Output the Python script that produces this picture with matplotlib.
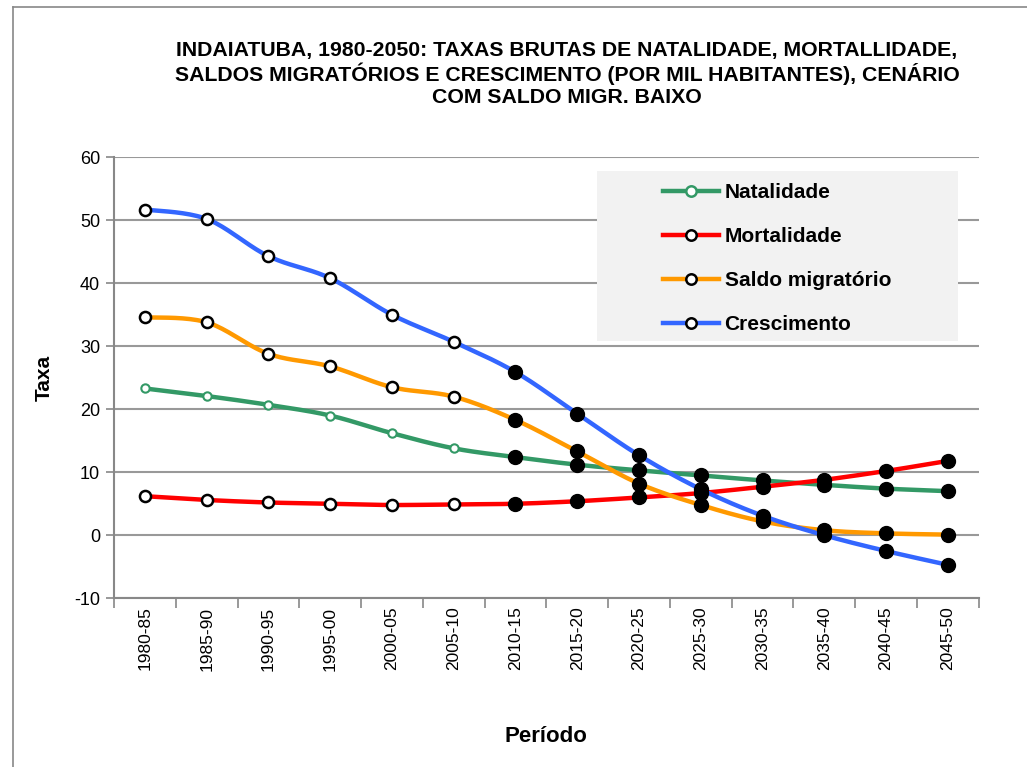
import numpy as np
import matplotlib.pyplot as plt
from matplotlib.lines import Line2D
from matplotlib.patches import Rectangle

plt.rcParams['font.family'] = ['Liberation Sans', 'DejaVu Sans']
plt.rcParams['axes.unicode_minus'] = False

# Dados (por mil habitantes)
periodos = ["1980-85", "1985-90", "1990-95", "1995-00", "2000-05", "2005-10", "2010-15",
            "2015-20", "2020-25", "2025-30", "2030-35", "2035-40", "2040-45", "2045-50"]
natalidade = [23.3, 22.1, 20.7, 19.0, 16.2, 13.8, 12.4, 11.2, 10.3, 9.5, 8.7, 8.0, 7.4, 7.0]
mortalidade = [6.2, 5.6, 5.2, 5.0, 4.8, 4.9, 5.0, 5.4, 6.0, 6.7, 7.7, 8.8, 10.2, 11.8]
saldo_migr = [34.6, 33.8, 28.8, 26.8, 23.5, 22.0, 18.3, 13.3, 8.2, 4.8, 2.2, 0.8, 0.3, 0.1]
crescimento = [51.7, 50.2, 44.3, 40.8, 35.0, 30.7, 25.9, 19.3, 12.7, 7.3, 3.1, 0.0, -2.5, -4.7]

series = [
    ("Natalidade", natalidade, "#339966"),
    ("Mortalidade", mortalidade, "#FF0000"),
    ("Saldo migratório", saldo_migr, "#FF9900"),
    ("Crescimento", crescimento, "#3366FF"),
]
n_hist = 6  # períodos com marcador aberto


def suavizar(x, y, n=20):
    # curva suavizada tipo Excel (Catmull-Rom) só para o traçado
    x = np.asarray(x, float)
    y = np.asarray(y, float)
    px = np.concatenate([[x[0]], x, [x[-1]]])
    py = np.concatenate([[y[0]], y, [y[-1]]])
    xs, ys = [], []
    t = np.linspace(0, 1, n, endpoint=False)
    for i in range(1, len(px) - 2):
        for arr, out in ((px, xs), (py, ys)):
            p0, p1, p2, p3 = arr[i - 1], arr[i], arr[i + 1], arr[i + 2]
            out.extend(0.5 * ((2 * p1) + (-p0 + p2) * t + (2 * p0 - 5 * p1 + 4 * p2 - p3) * t ** 2
                              + (-p0 + 3 * p1 - 3 * p2 + p3) * t ** 3))
    xs.append(x[-1])
    ys.append(y[-1])
    return np.array(xs), np.array(ys)


fig = plt.figure(figsize=(10.27, 7.67), dpi=100)
# moldura do gráfico (só topo e esquerda aparecem)
fig.add_artist(Line2D([0.0127, 1.0], [0.991, 0.991], transform=fig.transFigure,
                      color="#888888", linewidth=1.2))
fig.add_artist(Line2D([0.0127, 0.0127], [0.0, 0.991], transform=fig.transFigure,
                      color="#888888", linewidth=1.2))
ax = fig.add_axes([0.111, 0.220, 0.842, 0.575])

x = np.arange(len(periodos))
for nome, vals, cor in series:
    xs, ys = suavizar(x, vals)
    ax.plot(xs, ys, color=cor, linewidth=3.2, solid_capstyle="round", zorder=3)
    if nome == "Natalidade":
        ax.plot(x[:n_hist], vals[:n_hist], "o", ms=6, mfc="white", mec=cor, mew=1.5, zorder=4)
    else:
        ax.plot(x[:n_hist], vals[:n_hist], "o", ms=8, mfc="white", mec="black", mew=1.8, zorder=4)
    ax.plot(x[n_hist:], vals[n_hist:], "o", ms=10, color="black", zorder=4)

ax.set_xlim(-0.5, len(periodos) - 0.5)
ax.set_ylim(-10, 60)
ax.set_yticks(range(-10, 61, 10))
ax.set_xticks(x)
ax.set_xticklabels(periodos, rotation=90, fontsize=12.5)
ax.set_xticks(np.arange(-0.5, len(periodos)), minor=True)
ax.tick_params(axis="x", which="major", length=0, pad=6)
ax.tick_params(axis="x", which="minor", length=7, color="#888888", width=1.2)
ax.tick_params(axis="y", labelsize=13, length=6, color="#888888", width=1.2, pad=4)
ax.grid(axis="y", color="#999999", linewidth=1.5)
ax.set_axisbelow(True)
for s in ["top", "right"]:
    ax.spines[s].set_visible(False)
for s in ["left", "bottom"]:
    ax.spines[s].set_color("#888888")
    ax.spines[s].set_linewidth(1.5)

ax.set_ylabel("Taxa", fontsize=15, fontweight="bold", labelpad=15)
ax.set_xlabel("Período", fontsize=16, fontweight="bold", labelpad=40)

fig.text(0.552, 0.947, "INDAIATUBA, 1980-2050: TAXAS BRUTAS DE NATALIDADE, MORTALLIDADE,\n"
         "SALDOS MIGRATÓRIOS E CRESCIMENTO (POR MIL HABITANTES), CENÁRIO\n"
         "COM SALDO MIGR. BAIXO", ha="center", va="top", fontsize=15.3,
         fontweight="bold", linespacing=1.18)

# fundo da legenda
ax.add_patch(Rectangle((0.558, 0.583), 0.418, 0.385, transform=ax.transAxes,
                       facecolor="#F2F2F2", edgecolor="none", zorder=5))
handles = []
for nome, vals, cor in series:
    mec = cor if nome == "Natalidade" else "black"
    handles.append(Line2D([0], [0], color=cor, linewidth=3.2, marker="o", ms=7.5,
                          mfc="white", mec=mec, mew=1.8))
leg = ax.legend(handles, [s[0] for s in series], loc="upper left",
                bbox_to_anchor=(0.635, 0.942), fontsize=15, frameon=False,
                handlelength=2.7, labelspacing=1.2, borderpad=0, handletextpad=0.25,
                borderaxespad=0)
leg.set_zorder(6)
for t in leg.get_texts():
    t.set_fontweight("bold")

fig.savefig("out.png", dpi=100)
